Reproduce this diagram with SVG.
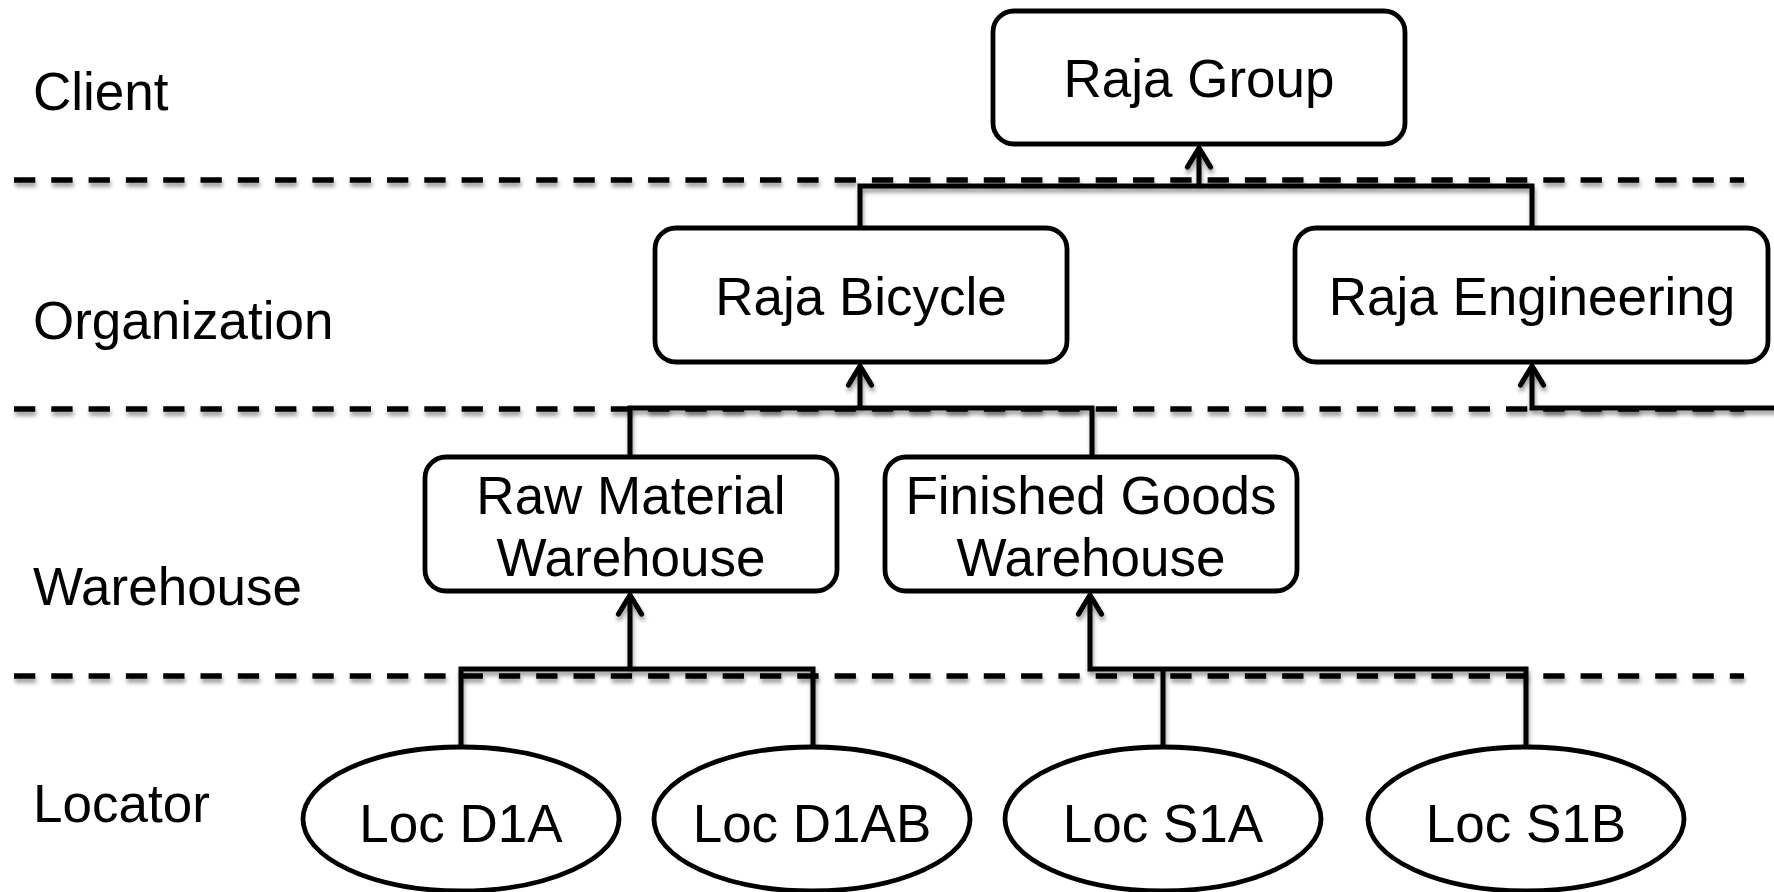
<svg xmlns="http://www.w3.org/2000/svg" width="1774" height="892" viewBox="0 0 1774 892">
  <style>
    .txt { font-family: "Liberation Sans", Arial, Helvetica, sans-serif; font-size: 53px; fill: #000; }
    .mid { text-anchor: middle; }
    .node { fill: #fff; stroke: #000; stroke-width: 4.8; }
    .sep { fill: none; stroke: #000; stroke-width: 5.5; stroke-dasharray: 21.3 16; }
    .wire { fill: none; stroke: #000; stroke-width: 5; stroke-linejoin: miter; }
    .arrow { marker-end: url(#head); }
  </style>
  <defs>
    <filter id="shade" x="-5%" y="-50%" width="110%" height="300%">
      <feGaussianBlur in="SourceAlpha" stdDeviation="2.2"/>
      <feOffset dx="1" dy="4" result="off"/>
      <feComponentTransfer><feFuncA type="linear" slope="0.4"/></feComponentTransfer>
      <feMerge><feMergeNode/><feMergeNode in="SourceGraphic"/></feMerge>
    </filter>
    <marker id="head" markerUnits="userSpaceOnUse" markerWidth="30" markerHeight="30" viewBox="-24 -15 30 30" refX="0" refY="0" orient="auto" overflow="visible">
      <path d="M-19,-11.5 L0,0 L-19,11.5" fill="none" stroke="#000" stroke-width="5.2" stroke-linejoin="round" stroke-linecap="round"/>
    </marker>
  </defs>

  <rect width="1774" height="892" fill="#fff"/>

  <!-- tier labels -->
  <g id="tier-labels" class="txt">
    <text x="33" y="110">Client</text>
    <text x="33" y="339">Organization</text>
    <text x="33" y="605">Warehouse</text>
    <text x="33" y="822">Locator</text>
  </g>

  <!-- tier separators -->
  <g id="separators" filter="url(#shade)">
    <line class="sep" x1="14" y1="180" x2="1744" y2="180"/>
    <line class="sep" x1="14" y1="409" x2="1744" y2="409"/>
    <line class="sep" x1="14" y1="676" x2="1744" y2="676"/>
  </g>

  <!-- connectors -->
  <g id="connectors" filter="url(#shade)">
    <path class="wire" d="M860,228 V186 H1532 V228"/>
    <path class="wire arrow" d="M1199,186 V148"/>
    <path class="wire" d="M630,457 V408 H1092 V457"/>
    <path class="wire arrow" d="M860,408 V366"/>
    <path class="wire arrow" d="M1780,408 H1532 V366"/>
    <path class="wire" d="M461,747 V669 H813 V747"/>
    <path class="wire arrow" d="M630,669 V595"/>
    <path class="wire arrow" d="M1526,747 V669 H1090 V595"/>
    <path class="wire" d="M1163,669 V747"/>
  </g>

  <!-- client -->
  <g id="raja-group">
    <rect class="node" x="993" y="11" width="412" height="133" rx="21"/>
    <text class="txt mid" x="1199" y="97">Raja Group</text>
  </g>

  <!-- organizations -->
  <g id="raja-bicycle">
    <rect class="node" x="655" y="228" width="412" height="134" rx="21"/>
    <text class="txt mid" x="861" y="315">Raja Bicycle</text>
  </g>
  <g id="raja-engineering">
    <rect class="node" x="1295" y="228" width="473" height="134" rx="21"/>
    <text class="txt mid" x="1532" y="315">Raja Engineering</text>
  </g>

  <!-- warehouses -->
  <g id="raw-material-warehouse">
    <rect class="node" x="425" y="457" width="412" height="134" rx="21"/>
    <text class="txt mid" x="631" y="514">Raw Material</text>
    <text class="txt mid" x="631" y="576">Warehouse</text>
  </g>
  <g id="finished-goods-warehouse">
    <rect class="node" x="885" y="457" width="412" height="134" rx="21"/>
    <text class="txt mid" x="1091" y="514">Finished Goods</text>
    <text class="txt mid" x="1091" y="576">Warehouse</text>
  </g>

  <!-- locators -->
  <g id="loc-d1a">
    <ellipse class="node" cx="461" cy="819" rx="158" ry="72"/>
    <text class="txt mid" x="461" y="842">Loc D1A</text>
  </g>
  <g id="loc-d1ab">
    <ellipse class="node" cx="812" cy="819" rx="158" ry="72"/>
    <text class="txt mid" x="812" y="842">Loc D1AB</text>
  </g>
  <g id="loc-s1a">
    <ellipse class="node" cx="1163" cy="819" rx="158" ry="72"/>
    <text class="txt mid" x="1163" y="842">Loc S1A</text>
  </g>
  <g id="loc-s1b">
    <ellipse class="node" cx="1526" cy="819" rx="158" ry="72"/>
    <text class="txt mid" x="1526" y="842">Loc S1B</text>
  </g>
</svg>
